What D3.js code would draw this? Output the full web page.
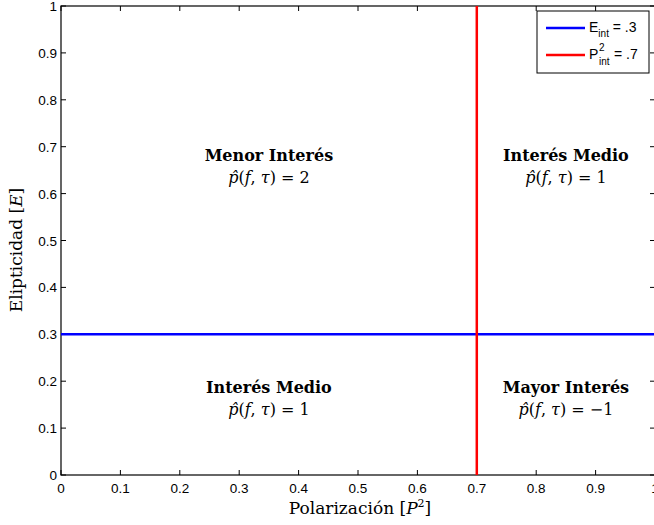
<!DOCTYPE html>
<html><head><meta charset="utf-8">
<script src="https://cdn.jsdelivr.net/npm/d3@7"></script>
<style>body{margin:0;background:#fff}svg{display:block}</style>
</head><body>
<script>
const xTicks = [0,0.1,0.2,0.3,0.4,0.5,0.6,0.7,0.8,0.9,1];
const yTicks = [0,0.1,0.2,0.3,0.4,0.5,0.6,0.7,0.8,0.9,1];
const xTickLabels = ["0","0.1","0.2","0.3","0.4","0.5","0.6","0.7","0.8","0.9","1"];
const yTickLabels = ["0","0.1","0.2","0.3","0.4","0.5","0.6","0.7","0.8","0.9","1"];
const eInt = 0.3;
const p2Int = 0.7;
const regionTitles = ["Menor Interés","Interés Medio","Interés Medio","Mayor Interés"];
const regionValues = ["2","1","1","\u22121"];
const regionX = [0.35,0.85,0.35,0.85];
const regionY = [0.68,0.68,0.185,0.185];

const W=654,H=525;
const svg=d3.select("body").append("svg").attr("width",W).attr("height",H);
const x=d3.scaleLinear().domain([0,1]).range([61,655]);
const y=d3.scaleLinear().domain([0,1]).range([475,6]);
const font="'Liberation Sans', Arial, sans-serif";
const serif="'DejaVu Serif',serif";

svg.append("rect").attr("x",x(0)).attr("y",y(1)).attr("width",x(1)-x(0)).attr("height",y(0)-y(1))
  .attr("fill","none").attr("stroke","#000").attr("stroke-width",1.2);

const tl=5;
const g=svg.append("g").attr("stroke","#000").attr("stroke-width",1);
xTicks.forEach(t=>{
  g.append("line").attr("x1",x(t)).attr("x2",x(t)).attr("y1",y(0)).attr("y2",y(0)-tl);
  g.append("line").attr("x1",x(t)).attr("x2",x(t)).attr("y1",y(1)).attr("y2",y(1)+tl);
});
yTicks.forEach(t=>{
  g.append("line").attr("x1",x(0)).attr("x2",x(0)+tl).attr("y1",y(t)).attr("y2",y(t));
  g.append("line").attr("x1",x(1)).attr("x2",x(1)-tl).attr("y1",y(t)).attr("y2",y(t));
});
xTicks.forEach((t,i)=>{
  svg.append("text").attr("x",x(t)).attr("y",y(0)+18).attr("text-anchor","middle")
    .attr("font-family",font).attr("font-size",13.5).text(xTickLabels[i]);
});
yTicks.forEach((t,i)=>{
  svg.append("text").attr("x",x(0)-4).attr("y",y(t)+5).attr("text-anchor","end")
    .attr("font-family",font).attr("font-size",13.5).text(yTickLabels[i]);
});

svg.append("line").attr("x1",x(0)).attr("x2",x(1)).attr("y1",y(eInt)).attr("y2",y(eInt))
  .attr("stroke","#0000ff").attr("stroke-width",2.5);
svg.append("line").attr("x1",x(p2Int)).attr("x2",x(p2Int)).attr("y1",y(0)).attr("y2",y(1))
  .attr("stroke","#ff0000").attr("stroke-width",2.5);

regionTitles.forEach((t,i)=>{
  svg.append("text").attr("x",x(regionX[i])).attr("y",y(regionY[i])+5).attr("text-anchor","middle")
    .attr("font-family",serif).attr("font-size",16).attr("font-weight","bold").text(t);
  const tx=svg.append("text").attr("x",x(regionX[i])).attr("y",y(regionY[i])+27).attr("text-anchor","middle")
    .attr("font-family",serif).attr("font-size",16);
  tx.append("tspan").attr("font-style","italic").text("p\u0302");
  tx.append("tspan").text("(");
  tx.append("tspan").attr("font-style","italic").text("f");
  tx.append("tspan").text(", ");
  tx.append("tspan").attr("font-style","italic").text("\u03C4");
  tx.append("tspan").text(") = "+regionValues[i]);
});

const xl=svg.append("text").attr("x",360).attr("y",514).attr("text-anchor","middle")
  .attr("font-family",serif).attr("font-size",17);
xl.append("tspan").text("Polarización [");
xl.append("tspan").attr("font-style","italic").text("P");
xl.append("tspan").attr("font-size",11).attr("dy",-7).text("2");
xl.append("tspan").attr("dy",7).text("]");

const yl=svg.append("text").attr("transform","translate(22,250) rotate(-90)").attr("text-anchor","middle")
  .attr("font-family",serif).attr("font-size",17);
yl.append("tspan").text("Elipticidad [");
yl.append("tspan").attr("font-style","italic").text("E");
yl.append("tspan").text("]");

const lg=svg.append("g");
lg.append("rect").attr("x",537).attr("y",11).attr("width",112).attr("height",62)
  .attr("fill","#fff").attr("stroke","#000").attr("stroke-width",1);
lg.append("line").attr("x1",546).attr("x2",585).attr("y1",28).attr("y2",28).attr("stroke","#0000ff").attr("stroke-width",2.5);
lg.append("line").attr("x1",546).attr("x2",585).attr("y1",55).attr("y2",55).attr("stroke","#ff0000").attr("stroke-width",2.5);
const t1=lg.append("text").attr("x",589).attr("y",32).attr("font-family",font).attr("font-size",14);
t1.append("tspan").text("E");
t1.append("tspan").attr("font-size",10).attr("dy",5).text("int");
t1.append("tspan").attr("dy",-5).text(" = .3");
lg.append("text").attr("x",589).attr("y",59).attr("font-family",font).attr("font-size",14).text("P");
lg.append("text").attr("x",599).attr("y",51).attr("font-family",font).attr("font-size",10).text("2");
lg.append("text").attr("x",599).attr("y",65).attr("font-family",font).attr("font-size",10).text("int");
lg.append("text").attr("x",614).attr("y",59).attr("font-family",font).attr("font-size",14).text(" = .7");
</script>
</body></html>
